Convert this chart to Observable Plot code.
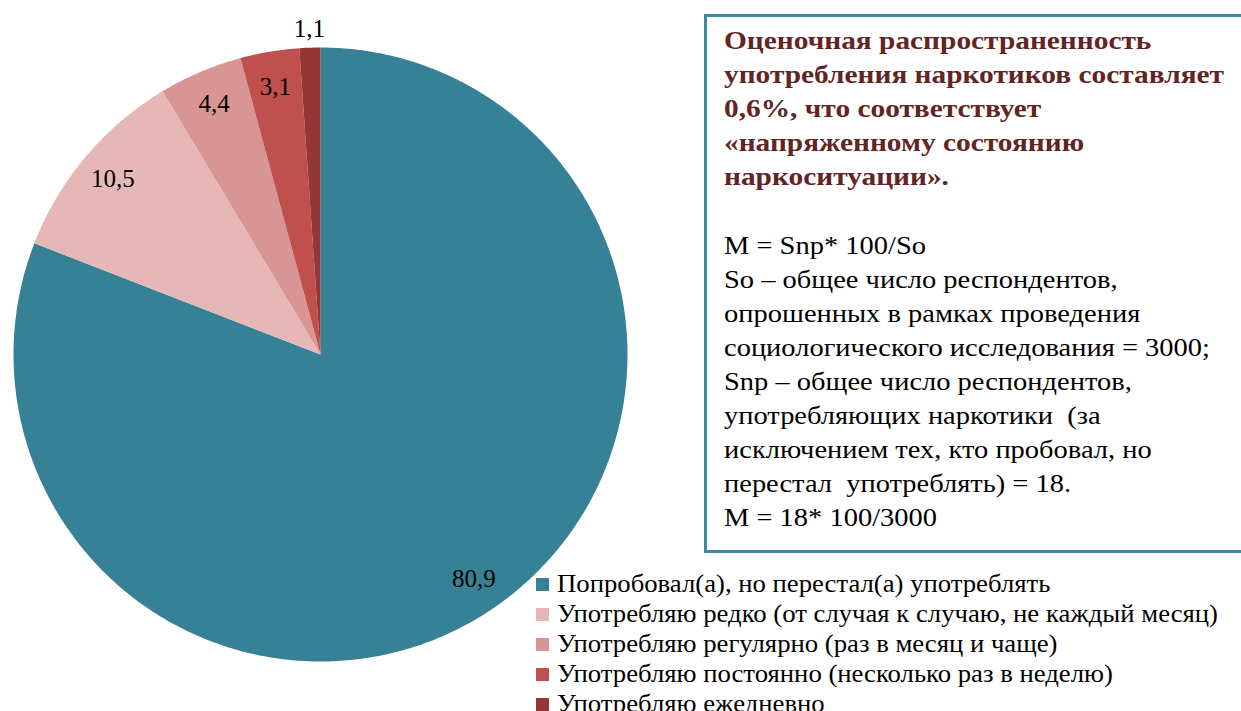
<!DOCTYPE html>
<html>
<head>
<meta charset="utf-8">
<script src="https://cdn.jsdelivr.net/npm/d3@7"></script>
<script src="https://cdn.jsdelivr.net/npm/@observablehq/plot@0.6"></script>
</head>
<body style="margin:0;padding:0;background:#fff">
<div id="wrap"></div>
<script>
const categories = [
  "Попробовал(а), но перестал(а) употреблять",
  "Употребляю редко (от случая к случаю, не каждый месяц)",
  "Употребляю регулярно (раз в месяц и чаще)",
  "Употребляю постоянно (несколько раз в неделю)",
  "Употребляю ежедневно"
];
const values = [80.9, 10.5, 4.4, 3.1, 1.1];
const valueLabels = ["80,9", "10,5", "4,4", "3,1", "1,1"];
const colors = ["#378196", "#e5b8b7", "#d99594", "#c0504d", "#943634"];

const titleLines = [
  "Оценочная распространенность",
  "употребления наркотиков составляет",
  "0,6%, что соответствует",
  "«напряженному состоянию",
  "наркоситуации»."
];
const bodyLines = [
  "M = Snp* 100/So",
  "So – общее число респондентов,",
  "опрошенных в рамках проведения",
  "социологического исследования = 3000;",
  "Snp – общее число респондентов,",
  "употребляющих наркотики  (за",
  "исключением тех, кто пробовал, но",
  "перестал  употреблять) = 18.",
  "M = 18* 100/3000"
];

const FONT = "Liberation Serif";

function css(el, props) { Object.assign(el.style, props); return el; }
function mk(tag, parent, props) { const e = document.createElement(tag); css(e, props || {}); parent.appendChild(e); return e; }

const wrap = css(document.getElementById("wrap"), {position: "relative", width: "1241px", height: "711px", overflow: "hidden"});

function measure(text, weight, size) {
  const s = mk("span", wrap, {fontFamily: `"${FONT}"`, fontWeight: weight, fontSize: size + "px", whiteSpace: "pre", position: "absolute", visibility: "hidden"});
  s.textContent = text;
  const w = s.getBoundingClientRect().width;
  s.remove();
  return w;
}

// pie
const data = categories.map((c, i) => ({category: c, value: values[i], label: valueLabels[i], color: colors[i]}));
const arcs = d3.pie().sort(null).value(d => d.value)(data);
const polys = [];
arcs.forEach((a, i) => {
  const steps = Math.max(4, Math.ceil((a.endAngle - a.startAngle) / 0.01));
  polys.push({i, x: 0, y: 0});
  for (let k = 0; k <= steps; k++) {
    const t = a.startAngle + (a.endAngle - a.startAngle) * k / steps;
    polys.push({i, x: Math.sin(t), y: Math.cos(t)});
  }
  polys.push({i, x: 0, y: 0});
});
const labelPts = arcs.map(a => {
  const mid = (a.startAngle + a.endAngle) / 2;
  const r = a.data.value < 2 ? 1.06 : 0.885;
  return {x: r * Math.sin(mid), y: r * Math.cos(mid), label: a.data.label};
});

const plot = Plot.plot({
  width: 1241,
  height: 711,
  margin: 0,
  x: {domain: [-1, 1], range: [13, 627], axis: null},
  y: {domain: [-1, 1], range: [661, 47], axis: null},
  style: {background: "transparent", fontFamily: FONT},
  marks: [
    Plot.line(polys, {x: "x", y: "y", z: "i", fill: d => colors[d.i], stroke: "none", curve: "linear"}),
    Plot.text(labelPts, {x: "x", y: "y", text: "label", fontSize: 25, fill: "#000", fontFamily: FONT})
  ]
});
plot.querySelectorAll("text").forEach(t => { t.style.fontFamily = `"${FONT}"`; t.style.fontSize = "25px"; });
const chart = mk("div", wrap, {position: "absolute", left: "0px", top: "0px"});
chart.appendChild(plot);

// text box
const box = mk("div", wrap, {position: "absolute", left: "704px", top: "14px", width: "560px", height: "533px", border: "3px solid #3a8aa0"});
function block(lines, weight, size, lh, top, refLine, targetW, color) {
  const el = mk("div", box, {position: "absolute", left: "17px", top: top + "px", whiteSpace: "pre", transformOrigin: "0 0",
    fontFamily: `"${FONT}"`, fontWeight: weight, fontSize: size + "px", lineHeight: lh + "px", color: color});
  el.textContent = lines.join("\n");
  const k = targetW / measure(lines[refLine], weight, size);
  el.style.transform = `scaleX(${k})`;
}
block(titleLines, "bold", 26, 34, 7, 1, 500, "#632523");
block(bodyLines, "normal", 26, 34, 212, 3, 486, "#000");

// legend
const legend = mk("div", wrap, {position: "absolute", left: "536px", top: "569px"});
const legendK = 661 / measure(categories[1], "normal", 26);
data.forEach(d => {
  const item = mk("div", legend, {display: "flex", alignItems: "center", whiteSpace: "nowrap", height: "30px"});
  mk("span", item, {width: "13px", height: "13px", marginRight: "8px", flex: "none", background: d.color});
  const t = mk("span", item, {display: "inline-block", transformOrigin: "0 50%", fontFamily: `"${FONT}"`, fontSize: "26px", lineHeight: "30px", color: "#000", transform: `scaleX(${legendK})`});
  t.textContent = d.category;
});
</script>
</body>
</html>
